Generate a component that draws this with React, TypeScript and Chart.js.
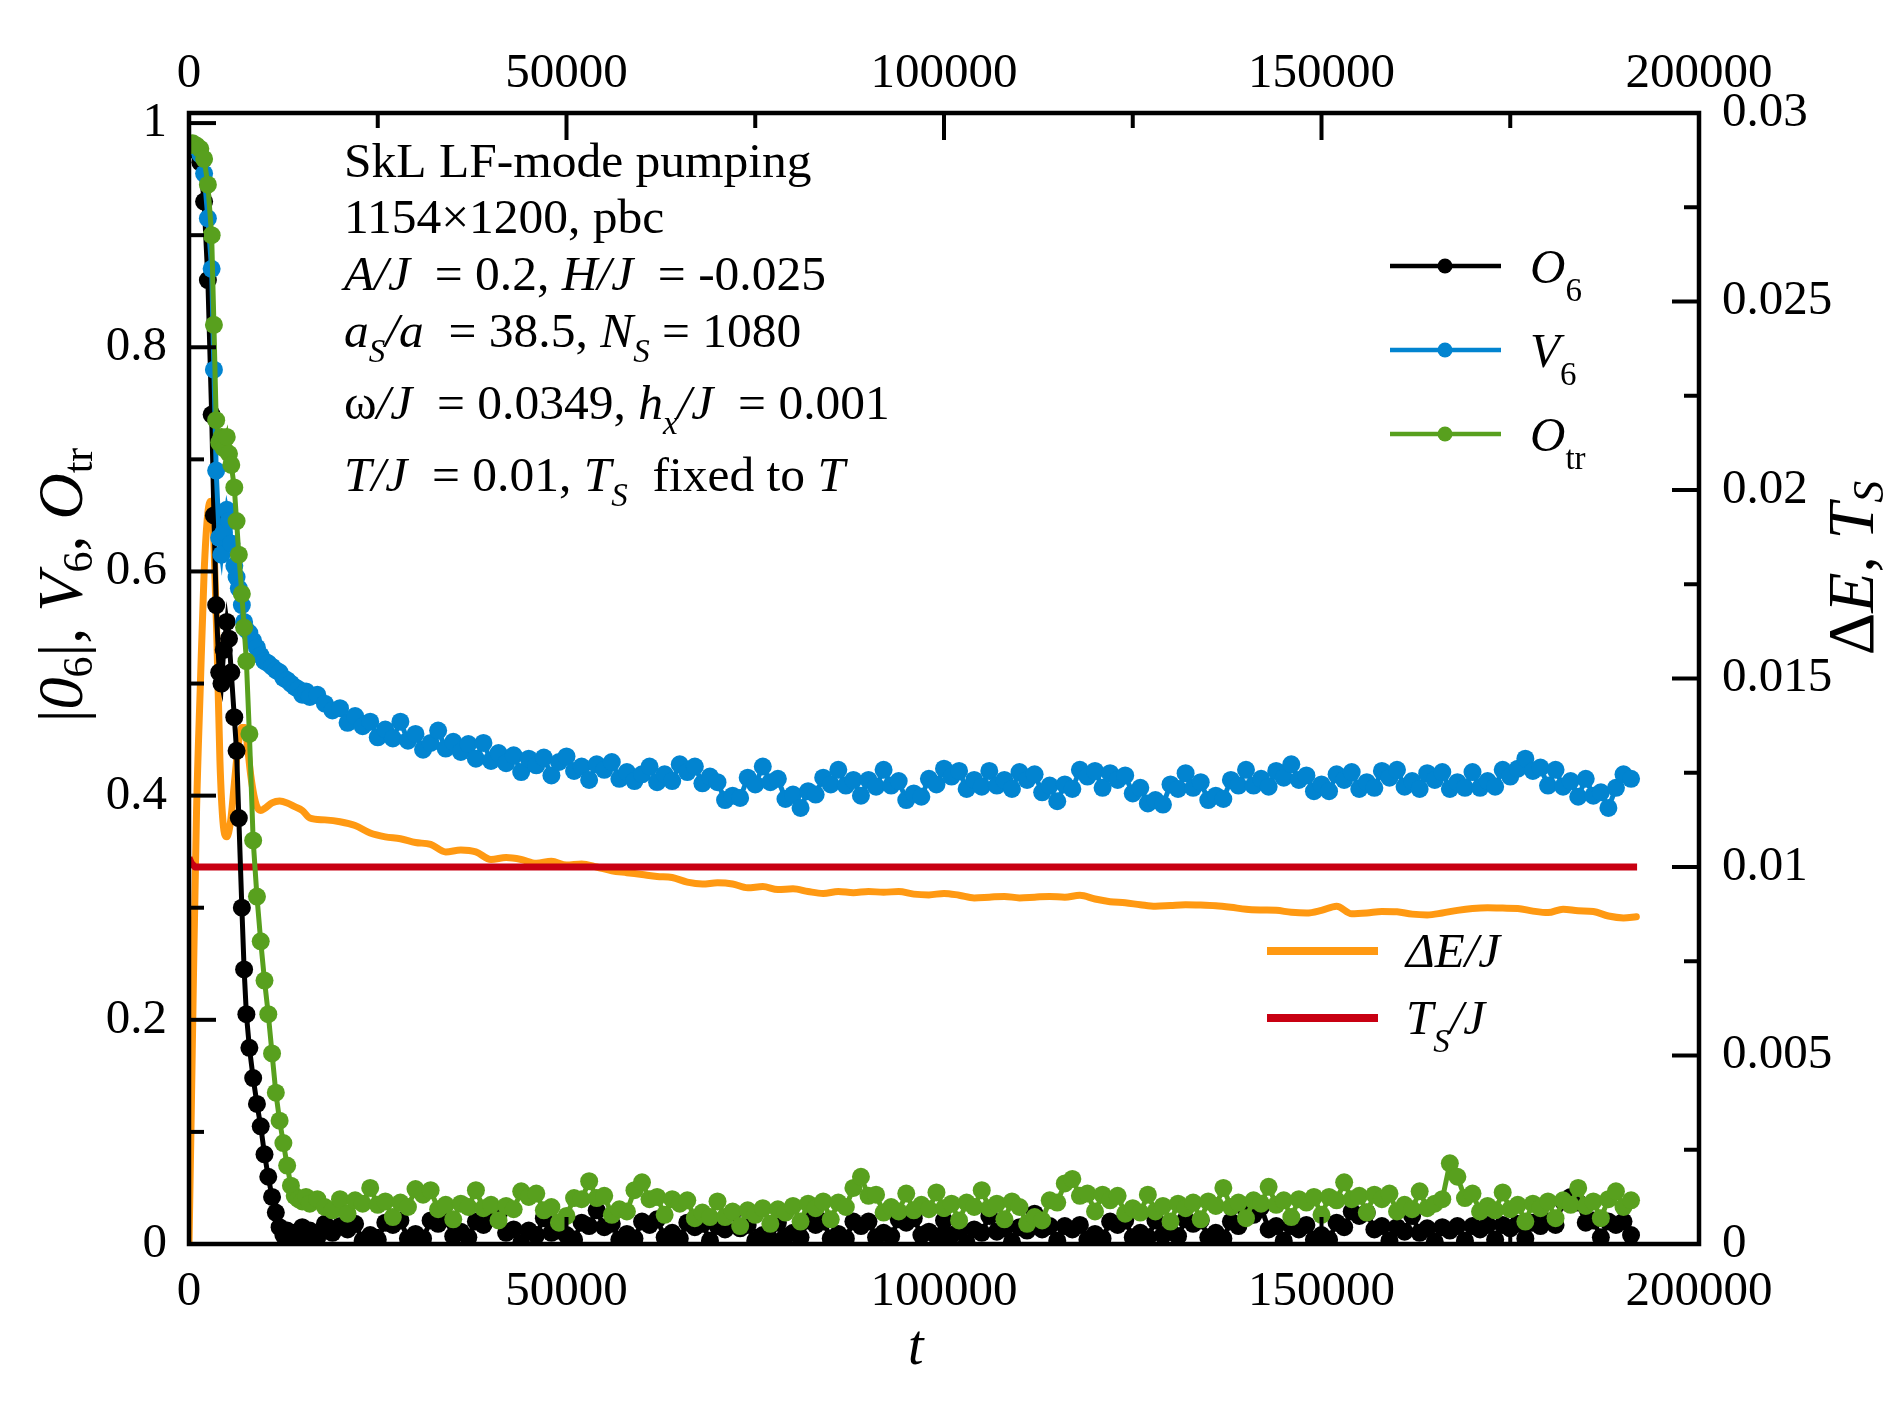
import { useEffect, useRef } from 'react';
import { Chart, registerables } from 'chart.js';

Chart.register(...registerables);

const FAMILY = "'Liberation Serif', 'Times New Roman', serif";
const BLACK = '#000000';
const BLUE = '#0284D0';
const GREEN = '#58A01E';
const ORANGE = '#FF9912';
const RED = '#C80012';

// ---------- time axis samples ----------
const tEarly = [0, 500, 1000, 1500, 2000, 2500, 3000, 3300, 3600, 4000, 4300, 4600, 5000, 5300, 5600, 6000, 6300, 6600, 7000, 7300, 7600, 8000, 8500, 9000, 9500, 10000, 10500, 11000, 11500, 12000, 12500, 13000, 13500, 14000, 14500, 15000, 15500, 16000, 17000, 18000, 19000];
const tLate = [
  20000, 21000, 22000, 23000, 24000, 25000, 26000, 27000, 28000, 29000,
  30000, 31000, 32000, 33000, 34000, 35000, 36000, 37000, 38000, 39000,
  40000, 41000, 42000, 43000, 44000, 45000, 46000, 47000, 48000, 49000,
  50000, 51000, 52000, 53000, 54000, 55000, 56000, 57000, 58000, 59000,
  60000, 61000, 62000, 63000, 64000, 65000, 66000, 67000, 68000, 69000,
  70000, 71000, 72000, 73000, 74000, 75000, 76000, 77000, 78000, 79000,
  80000, 81000, 82000, 83000, 84000, 85000, 86000, 87000, 88000, 89000,
  90000, 91000, 92000, 93000, 94000, 95000, 96000, 97000, 98000, 99000,
  100000, 101000, 102000, 103000, 104000, 105000, 106000, 107000, 108000, 109000,
  110000, 111000, 112000, 113000, 114000, 115000, 116000, 117000, 118000, 119000,
  120000, 121000, 122000, 123000, 124000, 125000, 126000, 127000, 128000, 129000,
  130000, 131000, 132000, 133000, 134000, 135000, 136000, 137000, 138000, 139000,
  140000, 141000, 142000, 143000, 144000, 145000, 146000, 147000, 148000, 149000,
  150000, 151000, 152000, 153000, 154000, 155000, 156000, 157000, 158000, 159000,
  160000, 161000, 162000, 163000, 164000, 165000, 166000, 167000, 168000, 169000,
  170000, 171000, 172000, 173000, 174000, 175000, 176000, 177000, 178000, 179000,
  180000, 181000, 182000, 183000, 184000, 185000, 186000, 187000, 188000, 189000,
  190000, 191000,
];

// ---------- |O6| ----------
const o6Early = [0.98, 0.98, 0.975, 0.965, 0.93, 0.86, 0.74, 0.65, 0.57, 0.51, 0.5, 0.53, 0.555, 0.54, 0.51, 0.47, 0.44, 0.38, 0.3, 0.245, 0.205, 0.175, 0.148, 0.125, 0.105, 0.08, 0.06, 0.042, 0.028, 0.015, 0.008, 0.012, 0.006, 0.01, 0.004, 0.015, 0.008, 0.012, 0.006, 0.018, 0.01];
const o6Late = [
  0.016, 0.013, 0.018, 0.003, 0.008, 0.004, 0.019, 0.017, 0.021, 0.005,
  0.009, 0.005, 0.021, 0.018, 0.023, 0.007, 0.011, 0.006, 0.02, 0.017,
  0.023, 0.026, 0.01, 0.013, 0.001, 0.012, 0.008, 0.023, 0.01, 0.012,
  0.008, 0.004, 0.019, 0.016, 0.03, 0.015, 0.018, 0.004, 0.009, 0.005,
  0.02, 0.017, 0.022, 0.006, 0.01, 0.005, 0.019, 0.015, 0.018, 0.003,
  0.016, 0.013, 0.028, 0.014, 0.017, 0.003, 0.008, 0.004, 0.019, 0.007,
  0.01, 0.006, 0.021, 0.017, 0.02, 0.005, 0.009, 0.005, 0.02, 0.016,
  0.02, 0.006, 0.01, 0.007, 0.022, 0.019, 0.023, 0.008, 0.011, 0.007,
  0.021, 0.008, 0.012, 0.001, 0.013, 0.01, 0.025, 0.011, 0.014, 0.002,
  0.015, 0.012, 0.027, 0.013, 0.016, 0.003, 0.016, 0.013, 0.017, 0.004,
  0.009, 0.005, 0.02, 0.017, 0.021, 0.006, 0.01, 0.006, 0.021, 0.008,
  0.011, 0.007, 0.022, 0.018, 0.021, 0.006, 0.01, 0.005, 0.02, 0.016,
  0.03, 0.026, 0.033, 0.013, 0.016, 0.003, 0.016, 0.013, 0.017, 0.004,
  0.008, 0.004, 0.019, 0.015, 0.029, 0.025, 0.028, 0.013, 0.016, 0.003,
  0.015, 0.011, 0.025, 0.01, 0.014, 0.002, 0.015, 0.012, 0.016, 0.003,
  0.016, 0.013, 0.017, 0.004, 0.017, 0.014, 0.018, 0.005, 0.019, 0.016,
  0.02, 0.017, 0.038, 0.042, 0.037, 0.019, 0.021, 0.006, 0.02, 0.017,
  0.02, 0.008,
];

// ---------- V6 ----------
const v6Early = [0.98, 0.98, 0.978, 0.972, 0.955, 0.915, 0.87, 0.78, 0.69, 0.63, 0.615, 0.635, 0.655, 0.645, 0.625, 0.605, 0.595, 0.585, 0.57, 0.555, 0.548, 0.545, 0.538, 0.532, 0.525, 0.52, 0.518, 0.515, 0.512, 0.51, 0.505, 0.503, 0.5, 0.497, 0.495, 0.49, 0.493, 0.488, 0.49, 0.482, 0.476];
const v6Late = [
  0.478, 0.465, 0.471, 0.462, 0.466, 0.452, 0.459, 0.451, 0.466, 0.449,
  0.455, 0.441, 0.447, 0.458, 0.442, 0.448, 0.439, 0.446, 0.433, 0.447,
  0.431, 0.438, 0.429, 0.436, 0.421, 0.433, 0.427, 0.434, 0.418, 0.43,
  0.435, 0.422, 0.426, 0.414, 0.428, 0.423, 0.43, 0.415, 0.421, 0.413,
  0.419, 0.426, 0.412, 0.419, 0.413, 0.428, 0.421, 0.426, 0.411, 0.417,
  0.412, 0.396, 0.4, 0.398, 0.416, 0.41, 0.426, 0.412, 0.415, 0.397,
  0.401, 0.389, 0.404, 0.401, 0.416, 0.41, 0.423, 0.409, 0.414, 0.4,
  0.414, 0.408, 0.423, 0.409, 0.413, 0.396, 0.402, 0.399, 0.415, 0.41,
  0.424, 0.417, 0.422, 0.406, 0.414, 0.408, 0.422, 0.409, 0.414, 0.406,
  0.421, 0.414, 0.419, 0.403, 0.409, 0.395, 0.41, 0.406, 0.423, 0.417,
  0.422, 0.407, 0.42, 0.414, 0.418, 0.402, 0.407, 0.393, 0.396, 0.392,
  0.41, 0.406, 0.42, 0.407, 0.412, 0.396, 0.4, 0.397, 0.414, 0.409,
  0.423, 0.409, 0.415, 0.408, 0.422, 0.416, 0.428, 0.414, 0.418, 0.404,
  0.41, 0.404, 0.419, 0.414, 0.421, 0.406, 0.412, 0.407, 0.422, 0.416,
  0.423, 0.408, 0.413, 0.406, 0.42, 0.414, 0.421, 0.406, 0.412, 0.407,
  0.421, 0.407, 0.413, 0.408, 0.423, 0.417, 0.424, 0.433, 0.422, 0.425,
  0.409, 0.423, 0.408, 0.413, 0.399, 0.415, 0.4, 0.403, 0.389, 0.407,
  0.419, 0.415,
];

// ---------- O_tr ----------
const otrEarly = [0.98, 0.982, 0.98, 0.977, 0.968, 0.945, 0.9, 0.82, 0.735, 0.715, 0.72, 0.71, 0.72, 0.705, 0.695, 0.675, 0.645, 0.615, 0.58, 0.55, 0.52, 0.455, 0.36, 0.31, 0.27, 0.235, 0.205, 0.17, 0.135, 0.11, 0.09, 0.07, 0.052, 0.043, 0.04, 0.038, 0.042, 0.036, 0.04, 0.033, 0.03];
const otrLate = [
  0.04, 0.027, 0.039, 0.036, 0.05, 0.035, 0.038, 0.024, 0.037, 0.033,
  0.049, 0.044, 0.048, 0.031, 0.035, 0.022, 0.036, 0.033, 0.048, 0.032,
  0.035, 0.021, 0.034, 0.031, 0.047, 0.042, 0.045, 0.03, 0.033, 0.019,
  0.025, 0.041, 0.04, 0.056, 0.041, 0.043, 0.026, 0.031, 0.029, 0.048,
  0.055, 0.04, 0.042, 0.026, 0.04, 0.036, 0.039, 0.023, 0.028, 0.024,
  0.038, 0.024, 0.029, 0.016, 0.03, 0.026, 0.032, 0.018, 0.031, 0.028,
  0.034, 0.02, 0.036, 0.032, 0.038, 0.022, 0.037, 0.033, 0.05, 0.06,
  0.043, 0.044, 0.028, 0.033, 0.029, 0.045, 0.03, 0.035, 0.031, 0.046,
  0.032, 0.036, 0.021, 0.037, 0.033, 0.048, 0.032, 0.036, 0.022, 0.038,
  0.033, 0.018, 0.024, 0.021, 0.039, 0.037, 0.054, 0.058, 0.043, 0.045,
  0.029, 0.044, 0.039, 0.043, 0.027, 0.032, 0.028, 0.044, 0.029, 0.034,
  0.02, 0.036, 0.032, 0.037, 0.022, 0.038, 0.034, 0.05, 0.033, 0.037,
  0.023, 0.039, 0.036, 0.051, 0.035, 0.039, 0.024, 0.04, 0.037, 0.042,
  0.026, 0.042, 0.039, 0.055, 0.04, 0.043, 0.028, 0.044, 0.04, 0.045,
  0.029, 0.035, 0.031, 0.047, 0.032, 0.036, 0.04, 0.072, 0.06, 0.041,
  0.045, 0.029, 0.034, 0.03, 0.046, 0.031, 0.035, 0.02, 0.036, 0.032,
  0.038, 0.023, 0.039, 0.035, 0.05, 0.034, 0.038, 0.023, 0.04, 0.047,
  0.033, 0.039,
];

// ---------- Delta E / J (right axis) ----------
const tE = [
  0, 300, 600, 1000, 1500, 2000, 2500, 2900, 3300, 3700,
  4100, 4500, 5000, 5500, 6000, 6500, 7000, 7400, 7800, 8200,
  8600, 9000, 9500, 10000, 11000, 12000, 13000, 14000, 15000, 16000,
  18000, 20000, 22000, 24000, 26000, 28000, 30000, 32000, 34000, 36000,
  38000, 40000, 42000, 44000, 46000, 48000, 50000, 52000, 54000, 56000,
  58000, 60000, 62000, 64000, 66000, 68000, 70000, 72000, 74000, 76000,
  78000, 80000, 82000, 84000, 86000, 88000, 90000, 92000, 94000, 96000,
  98000, 100000, 102000, 104000, 106000, 108000, 110000, 112000, 114000, 116000,
  118000, 120000, 122000, 124000, 126000, 128000, 130000, 132000, 134000, 136000,
  138000, 140000, 142000, 144000, 146000, 148000, 150000, 152000, 154000, 156000,
  158000, 160000, 162000, 164000, 166000, 168000, 170000, 172000, 174000, 176000,
  178000, 180000, 182000, 184000, 186000, 188000, 190000, 191700,
];
const dE = [
  0, 0.0035, 0.0072, 0.0115, 0.0148, 0.0178, 0.0194, 0.0197, 0.0186, 0.016,
  0.0128, 0.0112, 0.0108, 0.0112, 0.0122, 0.0132, 0.0137, 0.0137, 0.0131, 0.0124,
  0.0119, 0.0116, 0.0115, 0.01155, 0.0117, 0.01175, 0.0117, 0.0116, 0.0115, 0.0113,
  0.01125, 0.0112, 0.0111, 0.0109, 0.0108, 0.01075, 0.01065, 0.0106, 0.0104, 0.01045,
  0.0104, 0.0102, 0.01025, 0.0102, 0.0101, 0.01015, 0.01005, 0.01008, 0.01, 0.0099,
  0.00985, 0.0098, 0.00975, 0.00972, 0.0096, 0.00955, 0.00958, 0.00955, 0.00945, 0.00948,
  0.0094, 0.00942, 0.00935, 0.0093, 0.00935, 0.00932, 0.00935, 0.00933, 0.00935, 0.00928,
  0.00926, 0.0093, 0.00925, 0.00918, 0.0092, 0.00922, 0.00918, 0.0092, 0.00922, 0.0092,
  0.00925, 0.00915, 0.00908, 0.00905, 0.009, 0.00896, 0.00898, 0.009, 0.00899, 0.00897,
  0.00893, 0.00888, 0.00886, 0.00885, 0.0088, 0.00878, 0.00885, 0.00896, 0.00876, 0.00878,
  0.00882, 0.00881, 0.00875, 0.00873, 0.00878, 0.00885, 0.0089, 0.00892, 0.00891, 0.0089,
  0.00883, 0.00879, 0.00888, 0.00884, 0.00882, 0.0087, 0.00865, 0.00868,
];

// ---------- T_S / J (right axis) ----------
const tTs = [0, 300, 800, 191800];
const tsVals = [0.01025, 0.0101, 0.01, 0.01];

// ---------- axes ----------
const xMajor = [0, 50000, 100000, 150000, 200000];
const xLabels = ['0', '50000', '100000', '150000', '200000'];
const xMinor = [25000, 75000, 125000, 175000];
const yMajor = [0, 0.2, 0.4, 0.6, 0.8, 1];
const yLabels = ['0', '0.2', '0.4', '0.6', '0.8', '1'];
const yMinor = [0.1, 0.3, 0.5, 0.7, 0.9];
const y2Major = [0, 0.005, 0.01, 0.015, 0.02, 0.025, 0.03];
const y2Labels = ['0', '0.005', '0.01', '0.015', '0.02', '0.025', '0.03'];
const y2Minor = [0.0025, 0.0075, 0.0125, 0.0175, 0.0225, 0.0275];

type Seg = { t: string; i?: boolean; s?: boolean };

const infoLines: Seg[][] = [
  [{ t: 'SkL LF-mode pumping' }],
  [{ t: '1154×1200, pbc' }],
  [{ t: 'A/J', i: true }, { t: '  = 0.2, ' }, { t: 'H/J', i: true }, { t: '  = -0.025' }],
  [{ t: 'a', i: true }, { t: 'S', i: true, s: true }, { t: '/a', i: true }, { t: '  = 38.5, ' }, { t: 'N', i: true }, { t: 'S', i: true, s: true }, { t: ' = 1080' }],
  [{ t: 'ω' }, { t: '/J', i: true }, { t: '  = 0.0349, ' }, { t: 'h', i: true }, { t: 'x', i: true, s: true }, { t: '/J', i: true }, { t: '  = 0.001' }],
  [{ t: 'T/J', i: true }, { t: '  = 0.01, ' }, { t: 'T', i: true }, { t: 'S', i: true, s: true }, { t: '  fixed to ' }, { t: 'T', i: true }],
];
const infoBaselines = [177, 233, 290, 347, 419, 491];

const leftTitle: Seg[] = [{ t: '|' }, { t: '0', i: true }, { t: '6', s: true }, { t: '|, ' }, { t: 'V', i: true }, { t: '6', s: true }, { t: ', ' }, { t: 'O', i: true }, { t: 'tr', s: true }];
const rightTitle: Seg[] = [{ t: 'Δ' }, { t: 'E', i: true }, { t: ', ' }, { t: 'T', i: true }, { t: 'S', i: true, s: true }];

const markerLegend: { color: string; label: Seg[] }[] = [
  { color: BLACK, label: [{ t: 'O', i: true }, { t: '6', s: true }] },
  { color: BLUE, label: [{ t: 'V', i: true }, { t: '6', s: true }] },
  { color: GREEN, label: [{ t: 'O', i: true }, { t: 'tr', s: true }] },
];
const lineLegend: { color: string; label: Seg[] }[] = [
  { color: ORANGE, label: [{ t: 'ΔE/J', i: true }] },
  { color: RED, label: [{ t: 'T', i: true }, { t: 'S', i: true, s: true }, { t: '/J', i: true }] },
];

function drawRich(ctx: CanvasRenderingContext2D, segs: Seg[], x: number, y: number, size: number, subSize: number, subDy: number) {
  let cx = x;
  for (const sg of segs) {
    const fs = sg.s ? subSize : size;
    ctx.font = `${sg.i ? 'italic ' : ''}${fs}px ${FAMILY}`;
    ctx.fillText(sg.t, cx, y + (sg.s ? subDy : 0));
    cx += ctx.measureText(sg.t).width;
  }
  return cx - x;
}
function measureRich(ctx: CanvasRenderingContext2D, segs: Seg[], size: number, subSize: number) {
  let w = 0;
  for (const sg of segs) {
    const fs = sg.s ? subSize : size;
    ctx.font = `${sg.i ? 'italic ' : ''}${fs}px ${FAMILY}`;
    w += ctx.measureText(sg.t).width;
  }
  return w;
}

const pts = (xs: number[], ys: number[]) => xs.map((x, i) => ({ x, y: ys[i] }));

const decorPlugin = {
  id: 'decor',
  afterDraw(chart: any) {
    const ctx: CanvasRenderingContext2D = chart.ctx;
    const { left, right, top, bottom } = chart.chartArea;
    const sx = chart.scales.x;
    const sy = chart.scales.y;
    const sy2 = chart.scales.y2;
    const MAJ = 27;
    const MIN = 15;
    ctx.save();
    ctx.strokeStyle = '#000';
    ctx.lineWidth = 4;
    ctx.lineCap = 'butt';
    const seg = (x1: number, y1: number, x2: number, y2: number) => {
      ctx.beginPath();
      ctx.moveTo(x1, y1);
      ctx.lineTo(x2, y2);
      ctx.stroke();
    };
    xMajor.forEach((v) => { const p = sx.getPixelForValue(v); seg(p, bottom, p, bottom - MAJ); seg(p, top, p, top + MAJ); });
    xMinor.forEach((v) => { const p = sx.getPixelForValue(v); seg(p, bottom, p, bottom - MIN); seg(p, top, p, top + MIN); });
    yMajor.forEach((v) => { const p = sy.getPixelForValue(v); seg(left, p, left + MAJ, p); });
    yMinor.forEach((v) => { const p = sy.getPixelForValue(v); seg(left, p, left + MIN, p); });
    y2Major.forEach((v) => { const p = sy2.getPixelForValue(v); seg(right, p, right - MAJ, p); });
    y2Minor.forEach((v) => { const p = sy2.getPixelForValue(v); seg(right, p, right - MIN, p); });
    ctx.lineWidth = 4.5;
    ctx.strokeRect(left, top, right - left, bottom - top);

    ctx.fillStyle = '#000';
    ctx.textAlign = 'left';
    ctx.textBaseline = 'alphabetic';

    // info text block
    infoLines.forEach((line, k) => drawRich(ctx, line, 344, infoBaselines[k], 49.5, 33, 15));

    // marker legend
    const legY = [266, 350, 434];
    markerLegend.forEach((item, k) => {
      const y = legY[k];
      ctx.strokeStyle = item.color;
      ctx.lineWidth = 4.5;
      seg(1390, y, 1501, y);
      ctx.fillStyle = item.color;
      ctx.beginPath();
      ctx.arc(1445, y, 7.5, 0, Math.PI * 2);
      ctx.fill();
      ctx.fillStyle = '#000';
      drawRich(ctx, item.label, 1530, y + 17, 49, 33, 18);
    });

    // line legend
    const lineY = [951, 1018];
    lineLegend.forEach((item, k) => {
      const y = lineY[k];
      ctx.strokeStyle = item.color;
      ctx.lineWidth = 8;
      seg(1267, y, 1378, y);
      ctx.fillStyle = '#000';
      drawRich(ctx, item.label, 1406, y + 16, 49, 33, 18);
    });

    // axis titles
    ctx.fillStyle = '#000';
    const lw = measureRich(ctx, leftTitle, 64, 42);
    ctx.save();
    ctx.translate(82, 585 + lw / 2);
    ctx.rotate(-Math.PI / 2);
    drawRich(ctx, leftTitle, 0, 0, 64, 42, 10);
    ctx.restore();

    const rw = measureRich(ctx, rightTitle, 66, 44);
    ctx.save();
    ctx.translate(1873, 568 + rw / 2);
    ctx.rotate(-Math.PI / 2);
    drawRich(ctx, rightTitle, 0, 0, 66, 44, 10);
    ctx.restore();

    ctx.font = `italic 56px ${FAMILY}`;
    ctx.fillText('t', 908, 1364);
    ctx.restore();
  },
};

const tickFont = { family: FAMILY, size: 49 };

function makeX(position: 'top' | 'bottom', pad: number, h: number) {
  return {
    type: 'linear' as const,
    axis: 'x' as const,
    position,
    min: 0,
    max: 200000,
    grid: { display: false, drawTicks: false, tickLength: 0 },
    border: { display: false },
    ticks: {
      font: tickFont,
      color: '#000',
      padding: pad,
      maxRotation: 0,
      minRotation: 0,
      autoSkip: false,
      callback: (_v: any, i: number) => xLabels[i],
    },
    afterBuildTicks: (s: any) => { s.ticks = xMajor.map((v) => ({ value: v })); },
    afterFit: (s: any) => { s.height = h; },
  };
}

export default function App() {
  const ref = useRef<HTMLCanvasElement | null>(null);
  useEffect(() => {
    if (!ref.current) return;
    const tMain = [...tEarly, ...tLate];
    const o6 = [...o6Early, ...o6Late];
    const v6 = [...v6Early, ...v6Late];
    const otr = [...otrEarly, ...otrLate];
    const markerDs = (label: string, data: number[], color: string, order: number) => ({
      label,
      data: pts(tMain, data),
      xAxisID: 'x',
      yAxisID: 'y',
      borderColor: color,
      backgroundColor: color,
      borderWidth: 5,
      pointRadius: 9,
      pointBorderWidth: 0,
      pointBackgroundColor: color,
      pointBorderColor: color,
      order,
    });
    const chart = new Chart(ref.current, {
      type: 'line',
      data: {
        datasets: [
          markerDs('O_tr', otr, GREEN, 0),
          markerDs('V6', v6, BLUE, 1),
          markerDs('O6', o6, BLACK, 2),
          {
            label: 'T_S/J',
            data: pts(tTs, tsVals),
            xAxisID: 'x',
            yAxisID: 'y2',
            borderColor: RED,
            backgroundColor: RED,
            borderWidth: 7,
            pointRadius: 0,
            borderJoinStyle: 'round',
            order: 3,
          } as any,
          {
            label: 'dE/J',
            data: pts(tE, dE),
            xAxisID: 'x',
            yAxisID: 'y2',
            borderColor: ORANGE,
            backgroundColor: ORANGE,
            borderWidth: 7,
            pointRadius: 0,
            borderJoinStyle: 'round',
            borderCapStyle: 'round',
            cubicInterpolationMode: 'monotone',
            order: 4,
          } as any,
        ],
      },
      options: {
        responsive: false,
        maintainAspectRatio: false,
        animation: false,
        events: [],
        layout: { padding: 0 },
        plugins: {
          legend: { display: false },
          tooltip: { enabled: false },
          title: { display: false },
        },
        scales: {
          x: makeX('bottom', 19, 173),
          x2: makeX('top', 9, 113),
          y: {
            type: 'linear',
            position: 'left',
            min: 0,
            max: 1.009,
            grid: { display: false, drawTicks: false, tickLength: 0 },
            border: { display: false },
            ticks: {
              font: tickFont,
              color: '#000',
              padding: 22,
              autoSkip: false,
              callback: (_v: any, i: number) => yLabels[i],
            },
            afterBuildTicks: (s: any) => { s.ticks = yMajor.map((v) => ({ value: v })); },
            afterFit: (s: any) => { s.width = 189; },
          },
          y2: {
            type: 'linear',
            axis: 'y',
            position: 'right',
            min: 0,
            max: 0.03,
            grid: { display: false, drawTicks: false, tickLength: 0 },
            border: { display: false },
            ticks: {
              font: tickFont,
              color: '#000',
              padding: 23,
              autoSkip: false,
              callback: (_v: any, i: number) => y2Labels[i],
            },
            afterBuildTicks: (s: any) => { s.ticks = y2Major.map((v) => ({ value: v })); },
            afterFit: (s: any) => { s.width = 190; },
          },
        } as any,
      },
      plugins: [decorPlugin],
    });
    return () => chart.destroy();
  }, []);

  return (
    <div style={{ position: 'absolute', left: 0, top: 0, width: 1889, height: 1417, background: '#fff' }}>
      <canvas ref={ref} width={1889} height={1417} style={{ width: 1889, height: 1417, display: 'block' }} />
    </div>
  );
}
